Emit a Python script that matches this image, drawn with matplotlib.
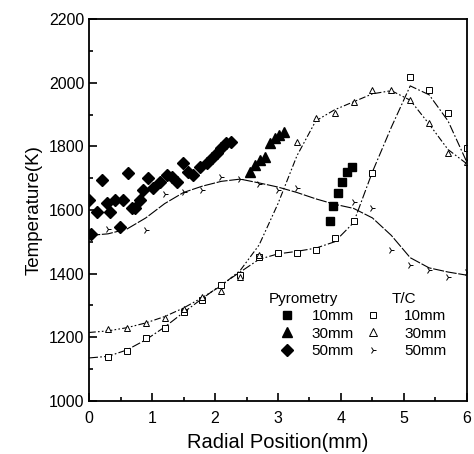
import matplotlib
matplotlib.use("Agg")
import matplotlib.pyplot as plt
from matplotlib.lines import Line2D
from matplotlib.ticker import MultipleLocator

plt.rcParams['font.family'] = ['Liberation Sans', 'DejaVu Sans']

# Pyrometry measurements
pyro10_x = [3.82, 3.88, 3.95, 4.02, 4.10, 4.18]
pyro10_y = [1565, 1612, 1653, 1688, 1720, 1735]

pyro30_x = [2.55, 2.63, 2.71, 2.79, 2.87, 2.95, 3.02, 3.10]
pyro30_y = [1719, 1741, 1757, 1766, 1810, 1826, 1835, 1845]

pyro50_x = [0.00, 0.03, 0.12, 0.20, 0.28, 0.33, 0.41, 0.49, 0.54, 0.62, 0.68, 0.73,
            0.81, 0.86, 0.94, 1.02, 1.12, 1.23, 1.31, 1.39, 1.49, 1.57, 1.65,
            1.76, 1.87, 1.95, 2.03, 2.10, 2.18, 2.25]
pyro50_y = [1631, 1525, 1594, 1694, 1622, 1594, 1631, 1547, 1631, 1716, 1606, 1606,
            1631, 1662, 1700, 1669, 1688, 1710, 1703, 1688, 1747, 1719, 1710,
            1735, 1747, 1763, 1779, 1794, 1810, 1813]

# Thermocouple measurements
tc10_x = [0.3, 0.6, 0.9, 1.2, 1.5, 1.8, 2.1, 2.4, 2.7, 3.0, 3.3, 3.6, 3.9, 4.2, 4.5,
          5.1, 5.4, 5.7, 6.0]
tc10_y = [1137, 1156, 1197, 1228, 1279, 1317, 1364, 1395, 1452, 1464, 1464, 1474,
          1511, 1565, 1716, 2018, 1977, 1905, 1795]

tc30_x = [0.3, 0.6, 0.9, 1.2, 1.5, 1.8, 2.1, 2.4, 2.7, 3.3, 3.6, 3.9, 4.2, 4.5, 4.8,
          5.1, 5.4, 5.7, 6.0]
tc30_y = [1225, 1228, 1245, 1262, 1290, 1328, 1345, 1388, 1460, 1813, 1889, 1905,
          1939, 1977, 1977, 1945, 1873, 1779, 1750]

tc50_x = [0.3, 0.9, 1.2, 1.5, 1.8, 2.1, 2.4, 2.7, 3.0, 3.3, 4.2, 4.5, 4.8, 5.1, 5.4,
          5.7, 6.0]
tc50_y = [1540, 1537, 1650, 1656, 1662, 1703, 1697, 1681, 1662, 1670, 1625, 1606,
          1474, 1427, 1411, 1389, 1405]

# fitted curves through the T/C data
fit_x = [0, 0.3, 0.6, 0.9, 1.2, 1.5, 1.8, 2.1, 2.4, 2.7, 3.0, 3.3, 3.6, 3.9, 4.2,
         4.5, 4.8, 5.1, 5.4, 5.7, 6.0]
fit10 = [1135, 1140, 1160, 1192, 1232, 1278, 1322, 1365, 1405, 1445, 1462, 1470,
         1480, 1500, 1560, 1720, 1860, 1990, 1962, 1880, 1750]
fit30 = [1215, 1220, 1230, 1245, 1265, 1292, 1325, 1362, 1410, 1490, 1620, 1770,
         1880, 1915, 1940, 1965, 1975, 1945, 1870, 1790, 1745]
fit50 = [1520, 1525, 1540, 1575, 1620, 1655, 1675, 1690, 1697, 1685, 1672, 1655,
         1635, 1618, 1605, 1575, 1520, 1450, 1418, 1405, 1395]

fig = plt.figure(figsize=(4.74, 4.54), dpi=100)
ax = fig.add_axes([0.188, 0.117, 0.797, 0.841])

ax.plot(fit_x, fit10, color='black', lw=0.8, ls=(0, (8, 2, 1.5, 2)))
ax.plot(fit_x, fit30, color='black', lw=0.8, ls=(0, (6, 2, 1.5, 2, 1.5, 2)))
ax.plot(fit_x, fit50, color='black', lw=0.8, ls=(0, (10, 1.5)))

ax.plot(tc10_x, tc10_y, ls='none', marker='s', ms=4.5, mfc='white', mec='black', mew=0.7)
ax.plot(tc30_x, tc30_y, ls='none', marker='^', ms=5, mfc='white', mec='black', mew=0.7)
ax.plot(tc50_x, tc50_y, ls='none', marker='4', ms=5, color='black', mew=0.7)

ax.plot(pyro10_x, pyro10_y, ls='none', marker='s', ms=5.5, color='black')
ax.plot(pyro30_x, pyro30_y, ls='none', marker='^', ms=6.5, color='black')
ax.plot(pyro50_x, pyro50_y, ls='none', marker='D', ms=6, color='black')

ax.set_xlim(0, 6)
ax.set_ylim(1000, 2200)
ax.xaxis.set_major_locator(MultipleLocator(1))
ax.xaxis.set_minor_locator(MultipleLocator(0.5))
ax.yaxis.set_major_locator(MultipleLocator(200))
ax.yaxis.set_minor_locator(MultipleLocator(100))
ax.tick_params(which='both', direction='in', top=False, right=False, labelsize=11.5, width=1.2)
ax.tick_params(which='major', length=6)
ax.tick_params(which='minor', length=3)
ax.tick_params(axis='x', pad=7)
for s in ax.spines.values():
    s.set_linewidth(1.3)

ax.set_xlabel("Radial Position(mm)", fontsize=14.5, labelpad=5)
ax.set_ylabel("Temperature(K)", fontsize=13.5)

h_pyro = [Line2D([], [], ls='none', marker='s', ms=5.5, color='black'),
          Line2D([], [], ls='none', marker='^', ms=6.5, color='black'),
          Line2D([], [], ls='none', marker='D', ms=6, color='black')]
h_tc = [Line2D([], [], ls='none', marker='s', ms=4.5, mfc='white', mec='black', mew=0.7),
        Line2D([], [], ls='none', marker='^', ms=6, mfc='white', mec='black', mew=0.7),
        Line2D([], [], ls='none', marker='4', ms=5, color='black', mew=0.7)]
labels = ["10mm", "30mm", "50mm"]

leg1 = ax.legend(h_pyro, labels, title="Pyrometry", loc='upper left',
                 bbox_to_anchor=(0.455, 0.305), frameon=False, fontsize=11,
                 title_fontsize=11, alignment='left', borderpad=0,
                 handlelength=2.4, handletextpad=0.4, labelspacing=0.22)
ax.add_artist(leg1)
ax.legend(h_tc, labels, title="T/C", loc='upper left',
          bbox_to_anchor=(0.70, 0.305), frameon=False, fontsize=11,
          title_fontsize=11, borderpad=0,
          handlelength=1.6, handletextpad=1.2, labelspacing=0.22)

fig.savefig("out.png", dpi=100)
